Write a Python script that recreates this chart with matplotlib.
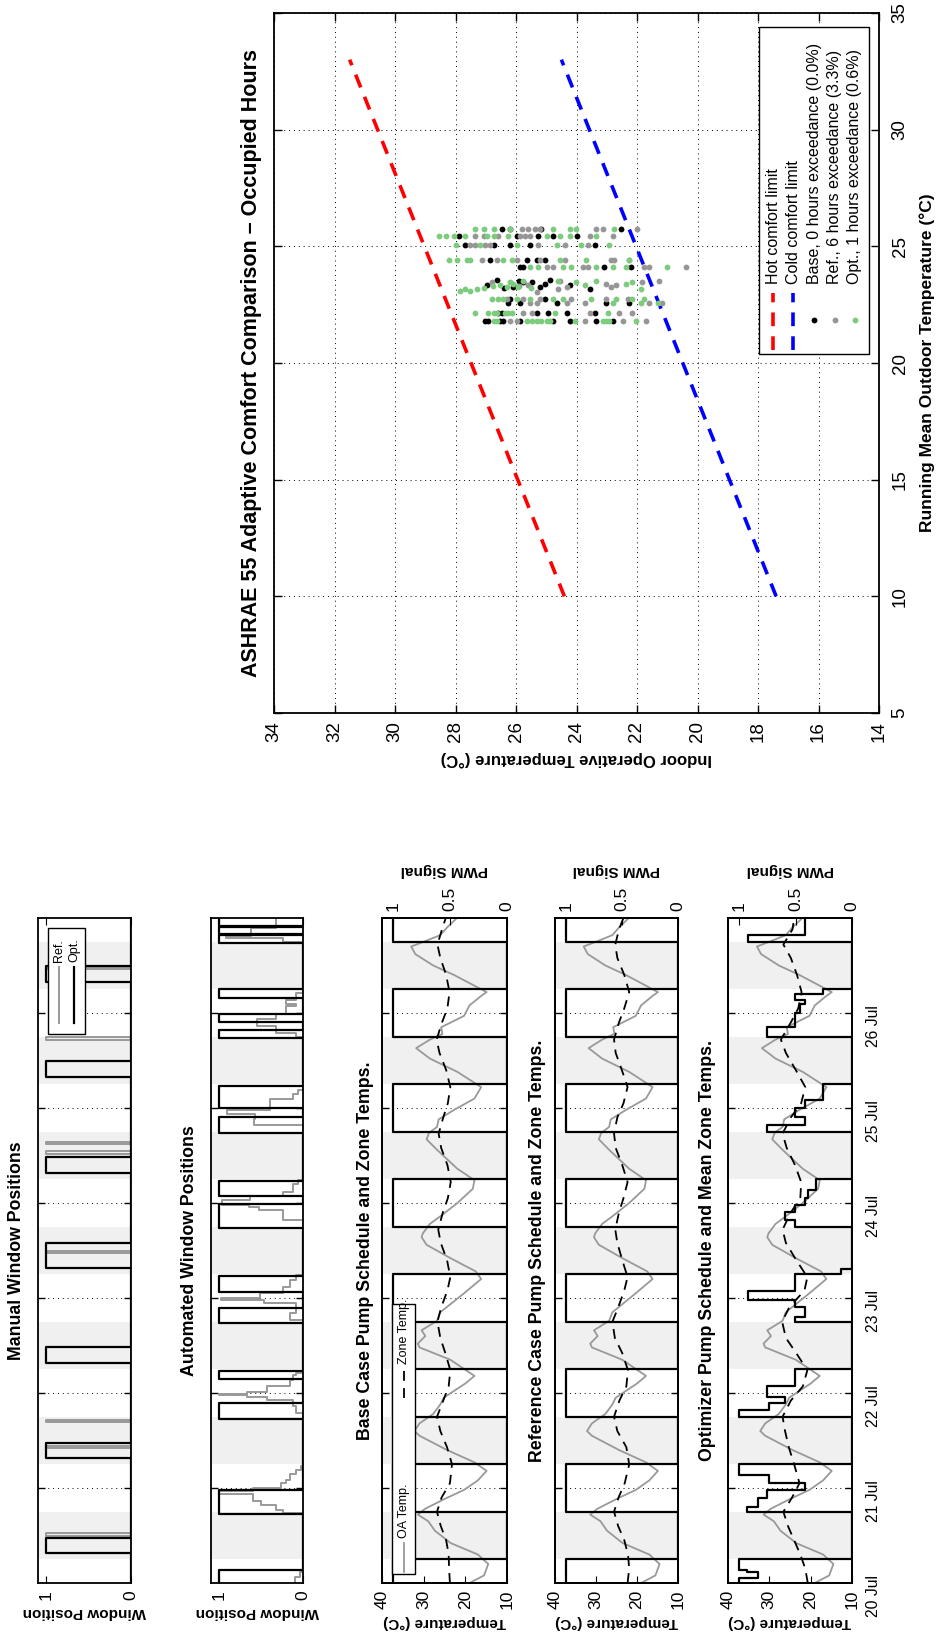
"""
Rotated landscape page: window positions, pump schedules and
ASHRAE 55 adaptive comfort scatter (drawn directly in portrait).
"""

import numpy as np
import matplotlib.pyplot as plt
from matplotlib.lines import Line2D
from matplotlib.patches import Rectangle
from matplotlib.transforms import blended_transform_factory

plt.rcParams['font.family'] = ['Liberation Sans', 'DejaVu Sans']

# ============================================================================
# Data  (time in days from 20 Jul 00:00)
# ============================================================================
day_labels = ['20 Jul', '21 Jul', '22 Jul', '23 Jul', '24 Jul', '25 Jul', '26 Jul']
day_label_t = [-0.14, 0.86, 1.86, 2.86, 3.86, 4.86, 5.86]
occupied = (0.25, 0.75)

# manual windows (0 = closed, 1 = open), step series
man_ref_t = [0, 0.50, 0.525, 1.42, 1.445, 1.69, 1.715, 3.47, 3.495, 4.52, 4.545,
             4.62, 4.645, 5.72, 5.745, 6.46, 6.485, 7.0]
man_ref_v = [0, 1, 0, 1, 0, 1, 0, 1, 0, 1, 0, 1, 0, 1, 0, 1, 0, 0]
man_opt_t = [0, 0.32, 0.47, 1.32, 1.47, 2.32, 2.48, 3.32, 3.58, 4.32, 4.48,
             5.33, 5.49, 6.33, 6.49, 7.0]
man_opt_v = [0, 1, 0, 1, 0, 1, 0, 1, 0, 1, 0, 1, 0, 1, 0, 0]

# automated windows
auto_ref_t = [0, 0.06, 0.12,
              0.74, 0.77, 0.82, 0.86, 0.94, 0.97, 1.0, 1.05, 1.08, 1.15, 1.19, 1.23,
              1.79, 1.86, 1.93, 1.96, 1.975, 1.99, 2.01, 2.07, 2.14, 2.19, 2.21,
              2.77, 2.84, 2.91, 2.95, 2.98, 3.0, 3.05, 3.12, 3.19, 3.24,
              3.82, 3.93, 3.96, 3.98, 4.03, 4.07, 4.12, 4.20, 4.24,
              4.82, 4.88, 4.94, 4.98, 5.10, 5.15, 5.19,
              5.75, 5.79, 5.86, 5.94, 5.99, 6.07, 6.10, 6.14, 6.21,
              6.75, 6.785, 6.81, 6.89, 7.0]
auto_ref_v = [0.1, 0.04, 0,
              0.24, 0.32, 0.5, 0.6, 1.0, 0.6, 0.26, 0.2, 0.16, 0.08, 0.02, 0,
              0.08, 0.12, 0.43, 0.67, 1.0, 0.67, 0.43, 0.16, 0.12, 0.08, 0,
              0.16, 0.08, 0.08, 0.47, 0.98, 0.51, 0.24, 0.16, 0.08, 0,
              0.24, 0.53, 0.65, 0.97, 0.63, 0.24, 0.12, 0.06, 0,
              0.59, 0.57, 0.91, 0.4, 0.12, 0.06, 0,
              0.08, 0.32, 0.55, 0.32, 0.2, 0.08, 0.2, 0.08, 0,
              0.24, 0.92, 0.62, 0.32, 0.32]
auto_opt_t = [0, 0.137, 0.726, 0.979, 1.726, 1.895, 2.147, 2.232, 2.737, 2.895,
              3.063, 3.232, 3.737, 3.99, 4.07, 4.23, 4.737, 4.905, 5.0, 5.23,
              5.737, 5.82, 5.905, 5.99, 6.16, 6.25, 6.74, 6.82, 6.83, 6.905, 6.915, 7.0]
auto_opt_v = [1, 0, 1, 0, 1, 0, 1, 0, 1, 0, 1, 0, 1, 0, 1, 0,
              1, 0, 1, 0, 1, 0, 1, 0, 1, 0, 1, 0, 1, 0, 1, 1]

# outdoor air temperature (deg C)
oa_t = [0.0, 0.08, 0.2, 0.3, 0.42, 0.55, 0.65, 0.72, 0.78, 0.88,
        0.98, 1.08, 1.18, 1.27, 1.40, 1.55, 1.60, 1.68, 1.78, 1.88,
        1.95, 2.1, 2.18, 2.35, 2.48, 2.52, 2.6, 2.66, 2.76, 2.85,
        3.05, 3.2, 3.28, 3.42, 3.56, 3.64, 3.68, 3.78, 3.86, 4.0,
        4.15, 4.24, 4.36, 4.56, 4.67, 4.74, 4.8, 4.88, 4.98, 5.1,
        5.22, 5.38, 5.52, 5.63, 5.72, 5.78, 5.85, 5.97, 6.08, 6.18,
        6.22, 6.4, 6.5, 6.62, 6.70, 6.75, 6.82, 6.9, 7.0]
oa_temp = [19.0, 15.5, 14.5, 17.0, 23.5, 27.3, 28.9, 31.4, 29.7, 25.2,
           20.3, 17.0, 14.9, 17.8, 24.4, 31.0, 32.2, 31.0, 27.7, 26.0,
           25.2, 20.0, 17.8, 23.6, 31.0, 31.4, 29.6, 30.5, 26.8, 26.0,
           20.3, 16.2, 17.5, 23.6, 29.3, 30.5, 30.2, 28.5, 26.0, 21.9,
           18.2, 17.8, 21.9, 26.8, 29.3, 28.7, 26.8, 26.4, 22.7, 17.8,
           16.2, 21.9, 28.5, 31.8, 28.5, 25.5, 25.8, 20.3, 19.0, 16.2,
           14.9, 22.7, 27.7, 32.0, 33.0, 30.0, 26.0, 24.4, 22.0]

# zone temperatures (deg C)
zone_t = [0.0, 0.15, 0.3, 0.45, 0.6, 0.75, 0.9, 1.05, 1.25, 1.43, 1.6, 1.75, 1.92,
          2.07, 2.24, 2.42, 2.58, 2.75, 2.9, 3.08, 3.22, 3.4, 3.58, 3.72, 3.9,
          4.05, 4.22, 4.4, 4.58, 4.73, 4.9, 5.05, 5.22, 5.4, 5.58, 5.72, 5.9,
          6.05, 6.22, 6.4, 6.58, 6.72, 6.88, 7.0]
base_zone = [23.7, 23.9, 24.0, 24.6, 25.9, 26.8, 25.7, 23.7, 23.2, 24.4, 26.0, 26.8, 25.3,
             24.0, 23.6, 24.8, 26.0, 26.7, 25.8, 24.3, 23.6, 24.4, 25.9, 26.5, 25.4,
             24.2, 23.5, 24.3, 25.8, 26.4, 25.3, 24.2, 23.6, 24.6, 26.2, 26.9, 25.6,
             24.3, 23.8, 24.6, 26.0, 26.7, 25.6, 24.7]
ref_zone = [22.3, 21.9, 22.2, 23.1, 24.6, 25.6, 24.5, 23.0, 21.9, 22.6, 24.8, 25.6, 24.3,
            22.6, 22.2, 23.6, 25.4, 26.0, 24.6, 23.1, 22.3, 23.6, 24.8, 25.3, 24.4,
            23.3, 22.3, 23.6, 25.2, 25.6, 24.8, 23.3, 22.3, 23.7, 25.2, 25.6, 24.4,
            23.1, 21.9, 23.1, 24.8, 25.3, 24.4, 23.3]
opt_zone = [20.7, 21.3, 22.5, 24.0, 25.5, 26.6, 24.5, 22.7, 24.0, 25.3, 26.2, 26.8, 24.8,
            21.9, 20.8, 23.5, 26.0, 26.9, 25.2, 21.5, 20.8, 23.5, 26.0, 26.8, 24.8,
            22.5, 22.3, 23.8, 25.8, 26.8, 24.8, 22.3, 21.3, 23.6, 26.0, 27.2, 24.8,
            23.0, 22.2, 23.3, 24.8, 26.6, 24.4, 24.0]

# pump PWM signals, step series
base_pwm_t = [0, 0.25, 0.75, 1.25, 1.75, 2.25, 2.75, 3.25, 3.75, 4.25, 4.75,
              5.25, 5.75, 6.25, 6.75, 7.0]
base_pwm_v = [1, 0, 1, 0, 1, 0, 1, 0, 1, 0, 1, 0, 1, 0, 1, 1]
ref_pwm_t = [0, 0.25, 0.75, 1.25, 1.75, 2.25, 2.75, 3.25, 3.75, 4.25, 4.75,
             5.25, 5.75, 6.25, 6.75, 7.0]
ref_pwm_v = [1, 0, 1, 0, 1, 0, 1, 0, 1, 0, 1, 0, 1, 0, 1, 1]
opt_pwm_t = [0, 0.05, 0.12, 0.14, 0.25, 0.75, 0.80, 0.89, 0.98, 1.05, 1.14, 1.25,
             1.75, 1.82, 1.89, 1.96, 2.07, 2.25,
             2.75, 2.80, 2.91, 2.98, 3.07, 3.25, 3.31,
             3.75, 3.82, 3.91, 3.98, 4.05, 4.14, 4.25,
             4.75, 4.82, 4.91, 5.0, 5.08, 5.25,
             5.75, 5.85, 6.0, 6.1, 6.14, 6.2, 6.25,
             6.75, 6.82, 7.0]
opt_pwm_v = [1.0, 0.83, 0.93, 1.0, 0.0, 0.93, 0.83, 0.75, 0.42, 0.74, 1.0, 0.0,
             1.0, 0.74, 0.59, 0.75, 0.51, 0.0,
             0.51, 0.42, 0.51, 0.92, 0.51, 0.1, 0.0,
             0.51, 0.59, 0.51, 0.42, 0.39, 0.32, 0.0,
             0.75, 0.42, 0.51, 0.42, 0.26, 0.0,
             0.75, 0.51, 0.46, 0.42, 0.51, 0.26, 0.0,
             0.92, 0.42, 0.42]

# comfort limits: running mean outdoor temp -> indoor operative temp
limit_tout = [10, 33]
hot_limit = [24.4, 31.5]
cold_limit = [17.4, 24.5]

# occupied-hour points (running mean outdoor temp, indoor operative temp)
base_pts = [(25.75, 26.47), (25.75, 26.20), (25.75, 25.16), (25.75, 22.53),
            (25.45, 27.87), (25.45, 25.98), (25.45, 25.27), (25.45, 24.77), (25.45, 23.97),
            (25.05, 27.67), (25.05, 26.74), (25.05, 26.20), (25.05, 25.54), (25.05, 23.40),
            (24.4, 26.85), (24.4, 25.65), (24.4, 25.32), (24.4, 25.05),
            (24.1, 25.87), (24.1, 25.76), (24.1, 23.08), (24.1, 22.20),
            (23.35, 26.96), (23.45, 25.76), (23.45, 25.48), (23.25, 25.21), (23.55, 24.88),
            (23.15, 23.57), (23.55, 26.63), (23.25, 26.09), (23.35, 24.23), (23.4, 25.05),
            (23.2, 26.4), (23.5, 25.9),
            (22.75, 26.20), (22.75, 25.05),
            (22.55, 26.25), (22.55, 25.87), (22.55, 24.66), (22.55, 23.02), (22.55, 22.26),
            (22.15, 26.58), (22.15, 26.47), (22.15, 25.32), (22.15, 24.94), (22.15, 24.33),
            (22.15, 23.40),
            (21.8, 27.02), (21.8, 26.91), (21.8, 26.52), (21.8, 26.42), (21.8, 25.87),
            (21.8, 24.77), (21.8, 24.23), (21.8, 23.35), (21.8, 22.80)]
ref_pts = [(25.75, 25.81), (25.75, 25.60), (25.75, 25.38), (25.75, 25.21), (25.75, 23.35),
           (25.75, 23.13), (25.75, 22.00),
           (25.45, 27.35), (25.45, 27.07), (25.45, 26.58), (25.45, 25.87), (25.45, 25.70),
           (25.45, 25.54), (25.45, 23.57), (25.45, 22.80),
           (25.05, 27.51), (25.05, 27.35), (25.05, 27.02), (25.05, 26.85), (25.05, 25.27),
           (25.05, 24.39), (25.05, 23.62),
           (24.4, 27.13), (24.4, 26.63), (24.4, 25.98), (24.4, 25.21), (24.4, 24.39),
           (24.4, 22.86), (24.4, 22.75), (24.4, 22.26),
           (24.1, 24.99), (24.1, 24.77), (24.1, 23.79), (24.1, 23.62), (24.1, 21.76),
           (24.1, 21.60), (24.1, 20.39),
           (23.45, 26.80), (23.35, 25.60), (23.5, 24.55), (23.25, 24.33), (23.4, 23.02),
           (23.25, 22.86), (23.35, 22.69), (23.45, 21.82), (23.5, 21.27), (23.05, 25.32),
           (23.3, 25.9), (23.15, 24.6),
           (22.75, 26.31), (22.75, 25.76), (22.75, 25.21), (22.75, 24.17), (22.75, 23.02),
           (22.75, 22.31),
           (22.55, 25.54), (22.55, 25.32), (22.55, 24.33), (22.55, 23.73), (22.55, 21.60),
           (22.55, 21.16),
           (22.15, 25.76), (22.15, 25.48), (22.15, 23.57), (22.15, 22.58), (22.15, 22.15),
           (21.8, 26.20), (21.8, 25.98), (21.8, 23.73), (21.8, 22.47), (21.8, 21.71)]
opt_pts = [(25.75, 27.35), (25.75, 27.07), (25.75, 26.74), (25.75, 26.20), (25.75, 24.77),
           (25.75, 24.23), (25.75, 24.01), (25.75, 22.75),
           (25.45, 28.55), (25.45, 28.33), (25.45, 28.06), (25.45, 27.67), (25.45, 26.96),
           (25.45, 26.74), (25.45, 26.25), (25.45, 24.99), (25.45, 24.55), (25.45, 24.23),
           (25.45, 23.35),
           (25.05, 28.00), (25.05, 27.18), (25.05, 25.98), (25.05, 24.66), (25.05, 23.84),
           (25.05, 22.91),
           (24.4, 28.22), (24.4, 27.95), (24.4, 27.62), (24.4, 27.51), (24.4, 26.42),
           (24.4, 26.14), (24.4, 24.55), (24.4, 23.68), (24.4, 22.26),
           (24.1, 25.54), (24.1, 25.27), (24.1, 24.44), (24.1, 24.17), (24.1, 23.35),
           (24.1, 22.80), (24.1, 22.36), (24.1, 21.00),
           (23.1, 27.84), (23.15, 27.67), (23.1, 27.51), (23.15, 27.29), (23.2, 27.07),
           (23.35, 26.52), (23.25, 26.31), (23.4, 26.09), (23.25, 25.92), (23.5, 25.76),
           (23.45, 24.01), (23.35, 23.73), (23.5, 23.35), (23.4, 22.36), (23.45, 22.15),
           (23.15, 21.87), (23.3, 26.75), (23.45, 26.2), (23.2, 25.5), (23.5, 24.6),
           (22.75, 26.80), (22.75, 26.58), (22.75, 26.42), (22.75, 25.98), (22.75, 25.54),
           (22.75, 24.77), (22.75, 24.44), (22.75, 23.51), (22.75, 22.69), (22.75, 22.15),
           (22.75, 21.76),
           (22.55, 22.80), (22.55, 21.87), (22.55, 21.32),
           (22.15, 27.35), (22.15, 26.91), (22.15, 26.74), (22.15, 26.63), (22.15, 26.36),
           (22.15, 26.25), (22.15, 26.14), (22.15, 24.72), (22.15, 22.97),
           (21.8, 26.74), (21.8, 26.63), (21.8, 25.65), (21.8, 25.48), (21.8, 25.32),
           (21.8, 25.16), (21.8, 24.99), (21.8, 24.88), (21.8, 24.06), (21.8, 23.13),
           (21.8, 23.02), (21.8, 22.91), (21.8, 22.04)]

# ============================================================================
# Layout helpers (pixel boxes on the 940 x 1642 page)
# ============================================================================
W, H = 940, 1642
TOP, BOT = 918, 1583
GRAY = '#999999'
LIGHT = '#f0f0f0'
GRID = dict(color='black', linestyle=(0, (1, 4)), lw=0.7)

fig = plt.figure(figsize=(W / 100, H / 100), dpi=100)


def fbox(x0, y0, x1, y1):
    return [x0 / W, 1 - y1 / H, (x1 - x0) / W, (y1 - y0) / H]


def vsteps(t, v):
    """Step series drawn along a vertical time axis."""
    t = np.asarray(t, float)
    v = np.asarray(v, float)
    return np.repeat(v, 2)[:-1], np.repeat(t, 2)[1:]


def fig_line(x, y0, y1, **kw):
    fig.add_artist(Line2D([x / W, x / W], [1 - y0 / H, 1 - y1 / H],
                          transform=fig.transFigure, **kw))


def fig_box(x0, y0, x1, y1):
    fig.add_artist(Rectangle((x0 / W, 1 - y1 / H), (x1 - x0) / W, (y1 - y0) / H,
                             transform=fig.transFigure, facecolor='white',
                             edgecolor='black', lw=1.0))


def fig_vtext(x, y, s, size):
    fig.text(x / W, 1 - y / H, s, rotation=90, rotation_mode='anchor',
             ha='left', va='center', fontsize=size)


def time_axes(x0, x1, title, title_x):
    ax = fig.add_axes(fbox(x0, TOP, x1, BOT))
    ax.set_ylim(0, 7)
    for k in range(7):
        ax.axhspan(k + occupied[0], k + occupied[1], color=LIGHT, lw=0, zorder=0)
    ax.set_yticks(range(1, 7))
    ax.set_yticklabels([])
    ax.tick_params(axis='y', direction='in', left=True, right=True, length=5, width=1)
    ax.yaxis.grid(True, **GRID)
    for s in ax.spines.values():
        s.set_linewidth(1.3)
    fig.text(title_x / W, 1 - (TOP + BOT) / 2 / H, title, rotation=90,
             ha='center', va='center', fontsize=12.8, fontweight='bold')
    return ax


def window_axes(x0, x1, title, title_x, ref_t, ref_v, opt_t, opt_v):
    ax = time_axes(x0, x1, title, title_x)
    ax.set_xlim(1.1, 0)
    ax.set_xticks([0, 1], labels=['0', '1'], rotation=90, fontsize=12.5)
    ax.tick_params(axis='x', direction='in', length=5, pad=5, top=True)
    ax.set_xlabel('Window Position', rotation=180, fontsize=11,
                  fontweight='bold', labelpad=4)
    x, y = vsteps(ref_t, ref_v)
    ax.plot(x, y, color=GRAY, lw=1.4)
    x, y = vsteps(opt_t, opt_v)
    ax.plot(x, y, color='black', lw=1.6)
    return ax


def pump_axes(x0, x1, title, title_x, zone, pwm_t, pwm_v):
    ax = time_axes(x0, x1, title, title_x)
    ax.set_xlim(40, 10)
    ax.set_xticks([10, 20, 30, 40], labels=['10', '20', '30', '40'],
                  rotation=90, fontsize=12.5)
    ax.tick_params(axis='x', direction='in', length=5, pad=5)
    ax.set_xlabel('Temperature (°C)', rotation=180, fontsize=11,
                  fontweight='bold', labelpad=4)
    ax.plot(oa_temp, oa_t, color=GRAY, lw=1.3)
    ax.plot(zone, zone_t, color='black', lw=1.3, linestyle=(0, (5.5, 4)))

    ax2 = ax.twiny()
    ax2.set_xlim(1.1, 0)
    ax2.set_xticks([0, 0.5, 1], labels=['0', '0.5', '1'], rotation=90, fontsize=12.5)
    ax2.tick_params(axis='x', direction='in', length=5, pad=5)
    ax2.set_xlabel('PWM Signal', rotation=180, fontsize=11,
                   fontweight='bold', labelpad=9)
    for s in ax2.spines.values():
        s.set_linewidth(1.3)
    x, y = vsteps(pwm_t, pwm_v)
    ax2.plot(x, y, color='black', lw=1.6)
    return ax


# ============================================================================
# Window panels
# ============================================================================
window_axes(38, 131, 'Manual Window Positions', 17,
            man_ref_t, man_ref_v, man_opt_t, man_opt_v)
window_axes(211, 303, 'Automated Window Positions', 190,
            auto_ref_t, auto_ref_v, auto_opt_t, auto_opt_v)

fig_box(48, 928, 85, 1034)
fig_line(59, 1023, 967, color=GRAY, lw=1.4)
fig_line(74, 1023, 967, color='black', lw=1.6)
fig_vtext(59, 962, 'Ref.', 9)
fig_vtext(74, 962, 'Opt.', 9)

# ============================================================================
# Pump panels
# ============================================================================
pump_axes(382, 507, 'Base Case Pump Schedule and Zone Temps.', 365,
          base_zone, base_pwm_t, base_pwm_v)
pump_axes(555, 678, 'Reference Case Pump Schedule and Zone Temps.', 537,
          ref_zone, ref_pwm_t, ref_pwm_v)
ax_opt = pump_axes(728, 852, 'Optimizer Pump Schedule and Mean Zone Temps.', 708,
                   opt_zone, opt_pwm_t, opt_pwm_v)

tr = blended_transform_factory(ax_opt.transAxes, ax_opt.transData)
for t, lab in zip(day_label_t, day_labels):
    ax_opt.text(1.17, t, lab, transform=tr, rotation=90,
                ha='center', va='center', fontsize=11.3)

fig_box(392, 1304, 415, 1574)
fig_line(403.5, 1572, 1543, color=GRAY, lw=1.3)
fig_line(403.5, 1398, 1368, color='black', lw=1.3, linestyle=(0, (5.5, 4)))
fig_vtext(403.5, 1538, 'OA Temp.', 9)
fig_vtext(403.5, 1364, 'Zone Temp.', 9)

# ============================================================================
# Adaptive comfort scatter
# ============================================================================
axs = fig.add_axes(fbox(274, 13, 879, 713))
axs.set_xlim(34, 14)
axs.set_ylim(5, 35)
xt = list(range(14, 35, 2))
yt = list(range(5, 36, 5))
axs.set_xticks(xt, labels=[str(v) for v in xt], rotation=90, fontsize=13.5)
axs.set_yticks(yt, labels=[str(v) for v in yt], rotation=90, va='center', fontsize=13.5)
axs.tick_params(direction='in', top=True, right=True, labelleft=False,
                labelright=True, length=6, width=1)
axs.tick_params(axis='x', pad=6)
axs.tick_params(axis='y', pad=9)
axs.grid(True, **GRID)
for s in axs.spines.values():
    s.set_linewidth(1.3)

axs.plot(hot_limit, limit_tout, color='red', lw=2.6, linestyle=(0, (3.8, 2.8)))
axs.plot(cold_limit, limit_tout, color='blue', lw=2.6, linestyle=(0, (3.8, 2.8)))

series = [(base_pts, 'black'), (ref_pts, '#969696'), (opt_pts, '#7dcb7d')]
for pts, col in series:
    tout = [p[0] for p in pts]
    top = [p[1] for p in pts]
    axs.plot(top, tout, 'o', ms=4.2, mew=0, color=col)

axs.set_xlabel('Indoor Operative Temperature (°C)', rotation=180, fontsize=12,
               fontweight='bold', labelpad=6)
axs.yaxis.set_label_position('right')
axs.set_ylabel('Running Mean Outdoor Temperature (°C)', rotation=90, fontsize=12.5,
               fontweight='bold', labelpad=8)
fig.text(252 / W, 1 - 363 / H,
         'ASHRAE 55 Adaptive Comfort Comparison \u2013 Occupied Hours',
         rotation=90, ha='center', va='center', fontsize=15.5, fontweight='bold')

# legend (drawn by hand, rotated with the page)
fig_box(759, 27, 869, 354)
leg_x = [773, 793, 814, 835, 855]
leg_text = ['Hot comfort limit', 'Cold comfort limit',
            'Base, 0 hours exceedance (0.0%)', 'Ref., 6 hours exceedance (3.3%)',
            'Opt., 1 hours exceedance (0.6%)']
fig_line(leg_x[0], 350, 293, color='red', lw=2.6, linestyle=(0, (3.8, 2.8)))
fig_line(leg_x[1], 350, 293, color='blue', lw=2.6, linestyle=(0, (3.8, 2.8)))
for x, (pts, col) in zip(leg_x[2:], series):
    fig.add_artist(Line2D([x / W], [1 - 320 / H], transform=fig.transFigure,
                          marker='o', ms=4.2, mew=0, color=col, ls='none'))
for x, s in zip(leg_x, leg_text):
    fig_vtext(x, 284, s, 11.5)

fig.savefig('out.png', dpi=100)
